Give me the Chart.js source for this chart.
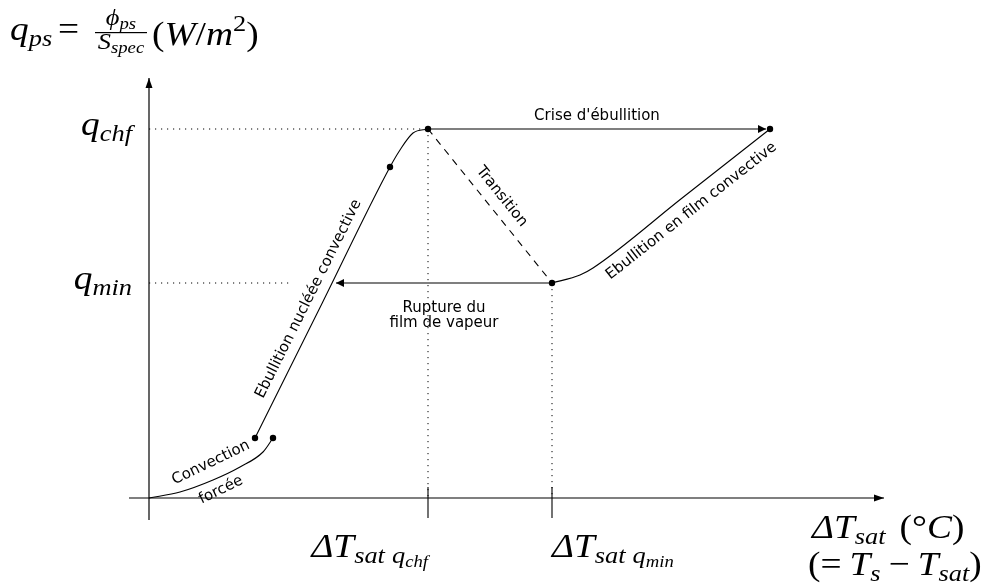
<!DOCTYPE html>
<html>
<head>
<meta charset="utf-8">
<script src="https://cdn.jsdelivr.net/npm/chart.js@4.4.0/dist/chart.umd.min.js"></script>
<style>
html, body { margin: 0; padding: 0; background: #fff; }
#wrap { width: 988px; height: 584px; position: relative; }
</style>
</head>
<body>
<div id="wrap"><canvas id="boiling"></canvas></div>
<script>
// courbe d'ébullition (unités arbitraires : x = ΔT_sat, y = q_ps)
const dT_chf = 27.9, dT_min = 40.3;
const q_chf = 36.9, q_min = 21.5;

const convX = [0, 3.1, 6.4, 9.1, 11.4, 12.4];          // convection forcée
const convY = [0, 0.6, 1.8, 3.1, 4.6, 6.0];
const nuclX = [10.6, 17.35, 24.1, 25.1, 26.4, 27.9];    // ébullition nucléée
const nuclY = [6.0, 19.55, 33.1, 34.8, 36.5, 36.9];
const filmX = [40.3, 43.1, 44.4, 53.25, 62.1];          // ébullition en film
const filmY = [21.5, 22.3, 23.0, 29.95, 36.9];
const dotX = [10.6, 12.4, 24.1, 27.9, 40.3, 62.1];
const dotY = [6.0, 6.0, 33.1, 36.9, 21.5, 36.9];
const criseX = [27.9, 61.7];    // crise d'ébullition (flèche)
const ruptX = [40.3, 18.7];     // rupture du film (flèche)
const guideChfX = [0, 27.9];
const guideMinX = [0, 14.3];
const axisX = [-2.0, 73.5];
const axisY = [-2.2, 42.0];
const tickY = [1.1, -2.0];

const pts = (xs, ys) => xs.map((x, i) => ({ x: x, y: ys[i] }));
const flat = (xs, y) => xs.map(x => ({ x: x, y: y }));
const vert = (x, ys) => ys.map(y => ({ x: x, y: y }));

const BLACK = '#000';
const line = (data, extra) => Object.assign({
  data: data, showLine: true, borderColor: BLACK, borderWidth: 1.1,
  pointRadius: 0, fill: false, clip: false
}, extra || {});
const dotted = { borderDash: [1.2, 4.8], borderWidth: 1 };

const SERIF = '"Liberation Serif", "DejaVu Serif", serif';
const SANS = '"DejaVu Sans", sans-serif';
const M = 34, S = 24, SS = 17;
const K = 1.1; // élargissement horizontal du texte mathématique

function run(ctx, x, y, runs, align) {
  let w = 0;
  runs.forEach(r => {
    ctx.font = (r[2] ? 'italic ' : '') + r[1] + 'px ' + SERIF;
    r.w = ctx.measureText(r[0]).width * K;
    w += r.w + (r[4] || 0);
  });
  let cx = align === 'right' ? x - w : align === 'center' ? x - w / 2 : x;
  ctx.textAlign = 'left';
  ctx.textBaseline = 'alphabetic';
  runs.forEach(r => {
    ctx.font = (r[2] ? 'italic ' : '') + r[1] + 'px ' + SERIF;
    ctx.save();
    ctx.translate(cx, y + (r[3] || 0));
    ctx.scale(K, 1);
    ctx.fillText(r[0], 0, 0);
    ctx.restore();
    cx += r.w + (r[4] || 0);
  });
  return w;
}

function along(ctx, text, a, b, t, off) {
  const ang = Math.atan2(b.y - a.y, b.x - a.x);
  ctx.save();
  ctx.translate(a.x + (b.x - a.x) * t, a.y + (b.y - a.y) * t);
  ctx.rotate(ang);
  ctx.textAlign = 'center';
  ctx.textBaseline = 'middle';
  ctx.fillText(text, 0, off);
  ctx.restore();
}

const arrowHeads = {
  id: 'arrowHeads',
  afterDatasetsDraw(chart) {
    const ctx = chart.ctx;
    chart.data.datasets.forEach((ds, i) => {
      if (!ds.arrow) return;
      const el = chart.getDatasetMeta(i).data;
      const p = el[el.length - 1], q = el[el.length - 2];
      const ang = Math.atan2(p.y - q.y, p.x - q.x);
      ctx.save();
      ctx.fillStyle = BLACK;
      ctx.translate(p.x, p.y);
      ctx.rotate(ang);
      ctx.beginPath();
      ctx.moveTo(0, 0);
      ctx.lineTo(-ds.arrow[0], -ds.arrow[1]);
      ctx.lineTo(-ds.arrow[0], ds.arrow[1]);
      ctx.closePath();
      ctx.fill();
      ctx.restore();
    });
  }
};

const labels = {
  id: 'labels',
  afterDraw(chart) {
    const ctx = chart.ctx, xs = chart.scales.x, ys = chart.scales.y;
    const P = (x, y) => ({ x: xs.getPixelForValue(x), y: ys.getPixelForValue(y) });
    ctx.save();
    ctx.fillStyle = BLACK;

    // titre de l'axe vertical
    run(ctx, 10, 40, [['q', M, 1], ['ps', S, 1, 6]]);
    run(ctx, 58, 40, [['=', M, 0]]);
    ctx.fillRect(95, 32, 52, 1.2);
    run(ctx, 121, 25, [['ϕ', S, 1], ['ps', SS, 1, 4]], 'center');
    run(ctx, 121, 49, [['S', S, 1], ['spec', SS, 1, 4]], 'center');
    run(ctx, 152, 45, [['(', M, 0], ['W', M, 1], ['/', M, 0], ['m', M, 1], ['2', S, 0, -14], [')', M, 0]]);

    // graduations de l'axe vertical
    const yc = ys.getPixelForValue(q_chf), ym = ys.getPixelForValue(q_min);
    run(ctx, 132, yc + 6, [['q', M, 1], ['chf', S, 1, 6]], 'right');
    run(ctx, 132, ym + 6, [['q', M, 1], ['min', S, 1, 6]], 'right');

    // graduations de l'axe horizontal
    const xc = xs.getPixelForValue(dT_chf), xm = xs.getPixelForValue(dT_min);
    run(ctx, xc, 557, [['Δ', M, 1], ['T', M, 1], ['sat', S, 1, 6, 7], ['q', S, 1, 6], ['chf', SS, 1, 10]], 'right');
    run(ctx, xm, 557, [['Δ', M, 1], ['T', M, 1], ['sat', S, 1, 6, 7], ['q', S, 1, 6], ['min', SS, 1, 10]]);
    run(ctx, 812, 538, [['Δ', M, 1], ['T', M, 1], ['sat', S, 1, 6, 14], ['(', M, 0], ['°', M, 0], ['C', M, 1], [')', M, 0]]);
    run(ctx, 808, 575, [['(', M, 0], ['=', M, 0, 0, 8], ['T', M, 1], ['s', S, 1, 6, 8], ['−', M, 0, 0, 8], ['T', M, 1], ['sat', S, 1, 6], [')', M, 0]]);

    // légendes des régimes
    ctx.font = '15px ' + SANS;
    ctx.textAlign = 'center';
    ctx.textBaseline = 'alphabetic';
    const c0 = P(criseX[0], q_chf), c1 = P(criseX[1], q_chf);
    ctx.fillText("Crise d'ébullition", (c0.x + c1.x) / 2, c0.y - 9);
    const r0 = P(ruptX[0], q_min), r1 = P(ruptX[1], q_min);
    ctx.fillText('Rupture du', (r0.x + r1.x) / 2, r0.y + 29);
    ctx.fillText('film de vapeur', (r0.x + r1.x) / 2, r0.y + 44);

    along(ctx, 'Transition', P(dT_chf, q_chf), P(dT_min, q_min), 0.5, -15);
    along(ctx, 'Ebullition nucléée convective', P(nuclX[0], nuclY[0]), P(nuclX[2], nuclY[2]), 0.49, -14);
    along(ctx, 'Ebullition en film convective', P(filmX[2], filmY[2]), P(filmX[4], filmY[4]), 0.5, 16);
    along(ctx, 'Convection', P(convX[1], convY[1]), P(convX[4], convY[4]), 0.44, -13);
    along(ctx, 'forcée', P(convX[1], convY[1]), P(convX[4], convY[4]), 0.41, 16);
    ctx.restore();
  }
};

new Chart(document.getElementById('boiling'), {
  type: 'scatter',
  data: {
    datasets: [
      line(flat(axisX, 0), { arrow: [10, 3.5], borderWidth: 1.2 }),
      line(vert(0, axisY), { arrow: [10, 3.5], borderWidth: 1.2 }),
      line(flat(guideChfX, q_chf), dotted),
      line(flat(guideMinX, q_min), dotted),
      line(vert(dT_chf, [q_chf, 0]), dotted),
      line(vert(dT_min, [q_min, 0]), dotted),
      line(vert(dT_chf, tickY)),
      line(vert(dT_min, tickY)),
      line(pts(convX, convY), { cubicInterpolationMode: 'monotone' }),
      line(pts(nuclX, nuclY), { cubicInterpolationMode: 'monotone' }),
      line(pts(filmX, filmY), { cubicInterpolationMode: 'monotone' }),
      line(pts([dT_chf, dT_min], [q_chf, q_min]), { borderDash: [7, 6] }),
      line(flat(criseX, q_chf), { arrow: [8, 4] }),
      line(flat(ruptX, q_min), { arrow: [8, 4] }),
      { data: pts(dotX, dotY), pointRadius: 3.2, pointBackgroundColor: BLACK, pointBorderWidth: 0, showLine: false, clip: false }
    ]
  },
  options: {
    responsive: true,
    maintainAspectRatio: false,
    animation: false,
    layout: { autoPadding: false, padding: { left: 129, right: 89, top: 68, bottom: 64 } },
    scales: {
      x: { type: 'linear', min: -2, max: 75, display: false },
      y: { type: 'linear', min: -2.2, max: 43, display: false }
    },
    plugins: { legend: { display: false }, tooltip: { enabled: false } },
    events: []
  },
  plugins: [arrowHeads, labels]
});
</script>
</body>
</html>
